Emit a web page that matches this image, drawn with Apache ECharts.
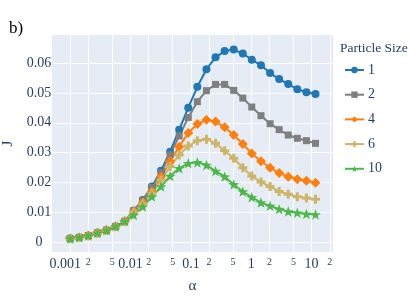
<!DOCTYPE html>
<html>
<head>
<meta charset="utf-8">
<script src="https://cdn.jsdelivr.net/npm/echarts@6/dist/echarts.min.js"></script>
<style>html,body{margin:0;padding:0;background:#fff}#c{width:415px;height:297px}</style>
</head>
<body>
<div id="c"></div>
<script>
const alpha = [0.001, 0.00141, 0.002, 0.00283, 0.004, 0.00566, 0.008, 0.0113, 0.016, 0.0226, 0.032, 0.0453, 0.064, 0.0905, 0.128, 0.181, 0.256, 0.362, 0.512, 0.724, 1.02, 1.45, 2.05, 2.9, 4.1, 5.79, 8.19, 11.6];
const seriesNames = ['1', '2', '4', '6', '10'];
const size1 = [0.0011,0.0015,0.0021,0.003,0.0039,0.0052,0.0069,0.0105,0.0141,0.0186,0.0239,0.0303,0.0377,0.0451,0.0521,0.058,0.062,0.0641,0.0646,0.0633,0.0612,0.0593,0.0567,0.0547,0.053,0.0513,0.0503,0.0497];
const size2 = [0.0011,0.0015,0.0021,0.003,0.0039,0.0052,0.0069,0.0105,0.014,0.0183,0.0233,0.0293,0.0356,0.0418,0.0471,0.0508,0.0529,0.0529,0.0509,0.0483,0.0453,0.0424,0.0397,0.0377,0.0359,0.0348,0.034,0.0331];
const size4 = [0.0011,0.0015,0.0021,0.003,0.0039,0.0052,0.0069,0.0102,0.0132,0.0169,0.0219,0.0271,0.032,0.0366,0.0396,0.041,0.0404,0.0385,0.0359,0.0329,0.0297,0.0271,0.0249,0.0231,0.0219,0.021,0.0205,0.0199];
const size6 = [0.0011,0.0015,0.0021,0.003,0.0039,0.0052,0.0069,0.01,0.0128,0.0163,0.0208,0.0253,0.0292,0.0322,0.034,0.0345,0.0331,0.0306,0.0281,0.0249,0.0221,0.0201,0.0186,0.0169,0.016,0.0152,0.0147,0.0143];
const size10 = [0.0011,0.0015,0.0021,0.003,0.0039,0.0052,0.0069,0.009,0.0118,0.0152,0.0186,0.0221,0.0247,0.0264,0.0267,0.0258,0.0238,0.0219,0.0193,0.0169,0.015,0.0132,0.0121,0.011,0.0102,0.0098,0.0094,0.0092];
const xTickValues = [0.001,0.002,0.005,0.01,0.02,0.05,0.1,0.2,0.5,1,2,5,10,20];
const xTickLabels = ['0.001','2','5','0.01','2','5','0.1','2','5','1','2','5','10','2'];
const yTickValues = [0,0.01,0.02,0.03,0.04,0.05,0.06];
const yTickLabels = ['0','0.01','0.02','0.03','0.04','0.05','0.06'];

const allValues = [size1, size2, size4, size6, size10];
const colors = ['#1f77b4', '#7f7f7f', '#ff7f0e', '#cdb466', '#4cb848'];
const crossPath = 'path://M-1,-3H1V-1H3V1H1V3H-1V1H-3V-1H-1Z';
const starPath = 'path://M0,-1L0.235,-0.324L0.951,-0.309L0.38,0.124L0.588,0.809L0,0.4L-0.588,0.809L-0.38,0.124L-0.951,-0.309L-0.235,-0.324Z';
const symbols = ['circle', 'rect', 'diamond', crossPath, starPath];
const symbolSizes = [8, 7, 10, 9, 11];
const FONT = '"Liberation Serif", "DejaVu Serif", serif';
const TXT = '#2a3f5f';

function nearestIdx(arr, v, log) {
  let best = 0, bd = Infinity;
  arr.forEach((a, i) => {
    const d = log ? Math.abs(Math.log10(a) - Math.log10(v)) : Math.abs(a - v);
    if (d < bd) { bd = d; best = i; }
  });
  return best;
}

const chart = echarts.init(document.getElementById('c'), null, {renderer: 'canvas'});
chart.setOption({
  backgroundColor: '#ffffff',
  animation: false,
  title: {
    text: 'b)', left: 4, top: 15,
    textStyle: {fontFamily: FONT, fontSize: 17, fontWeight: 'normal', color: '#000'}
  },
  graphic: [{
    type: 'text', left: 340, top: 41,
    style: {text: 'Particle Size', fontFamily: FONT, fontSize: 13.5, fill: TXT}
  }],
  legend: {
    orient: 'vertical', left: 339, top: 58,
    itemWidth: 19, itemHeight: 8, itemGap: 10.7,
    textStyle: {fontFamily: FONT, fontSize: 14, color: TXT, padding: [0,0,0,-1]},
    data: seriesNames
  },
  grid: {
    left: 52, right: 82, top: 35, bottom: 45,
    containLabel: false, outerBoundsMode: 'none',
    show: true, backgroundColor: '#e5ecf6', borderWidth: 0
  },
  xAxis: {
    type: 'log', logBase: 10, min: 0.0005, max: 22.6,
    name: 'α', nameLocation: 'middle', nameGap: 27,
    nameTextStyle: {fontFamily: FONT, fontSize: 15, color: TXT},
    axisLine: {show: false},
    axisTick: {show: false, customValues: xTickValues},
    minorTick: {show: false},
    axisLabel: {
      customValues: xTickValues,
      margin: 5,
      fontFamily: FONT, color: TXT,
      formatter: function (v) {
        const i = nearestIdx(xTickValues, v, true);
        const lab = xTickLabels[i];
        if (i === 0) return '{f|' + lab + '}';
        return (lab === '2' || lab === '5') ? '{s|' + lab + '}' : '{m|' + lab + '}';
      },
      rich: {
        m: {fontFamily: FONT, fontSize: 14, color: TXT},
        f: {fontFamily: FONT, fontSize: 14, color: TXT, padding: [0, 10, 0, 0]},
        s: {fontFamily: FONT, fontSize: 10, color: TXT, padding: [0, 0, 3, 0]}
      }
    },
    splitLine: {show: true, lineStyle: {color: '#ffffff', width: 1}}
  },
  yAxis: {
    type: 'value', min: -0.0034, max: 0.0695,
    name: 'J', nameLocation: 'middle', nameGap: 34, nameRotate: 90,
    nameTextStyle: {fontFamily: FONT, fontSize: 15, color: TXT},
    axisLine: {show: false},
    axisTick: {show: false, customValues: yTickValues},
    axisLabel: {
      customValues: yTickValues,
      margin: 13, align: 'center',
      fontFamily: FONT, fontSize: 14, color: TXT,
      formatter: function (v) { return yTickLabels[nearestIdx(yTickValues, v, false)]; }
    },
    splitLine: {show: true, lineStyle: {color: '#ffffff', width: 1}}
  },
  series: allValues.map((vals, si) => ({
    name: seriesNames[si],
    type: 'line',
    data: alpha.map((a, i) => [a, vals[i]]),
    symbol: symbols[si],
    symbolSize: symbolSizes[si],
    symbolKeepAspect: true,
    showAllSymbol: true,
    lineStyle: {color: colors[si], width: 2},
    itemStyle: {color: colors[si]},
    emphasis: {disabled: true}
  }))
});
</script>
</body>
</html>
